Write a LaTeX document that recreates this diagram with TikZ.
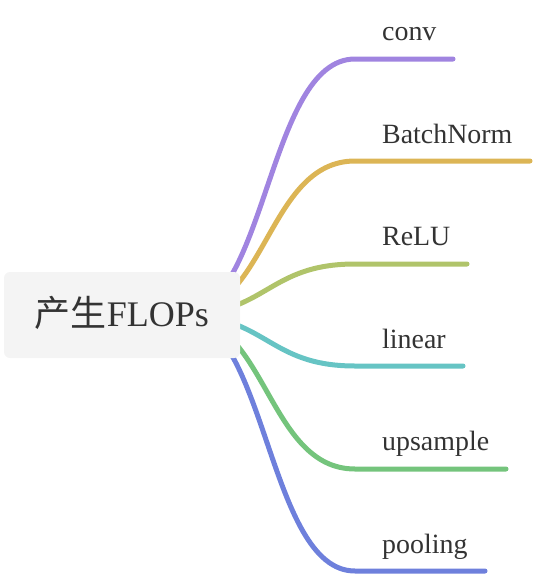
\documentclass[tikz,border=0pt]{standalone}
\usepackage{fontspec}
\setmainfont{Liberation Serif}
\newfontfamily\cjk{Noto Sans CJK SC}
\definecolor{cconv}{HTML}{A084E0}
\definecolor{cbn}{HTML}{DCB555}
\definecolor{crelu}{HTML}{B0C46A}
\definecolor{clin}{HTML}{66C4C4}
\definecolor{cup}{HTML}{74C47C}
\definecolor{cpool}{HTML}{6E80DC}
\definecolor{rootfill}{HTML}{F4F4F4}
\definecolor{txt}{HTML}{333333}
\tikzset{
  branch/.style={line width=5pt, line cap=round},
  leaf/.style={anchor=base west, inner sep=0pt, text=txt, font=\fontsize{27.9}{30}\selectfont},
  rootbox/.style={fill=rootfill, rounded corners=6pt, draw=none},
}
\begin{document}
\begin{tikzpicture}[x=1pt,y=-1pt]
\useasboundingbox (0,0) rectangle (534,576);
\coordinate (s) at (180,315);
\foreach \n/\y/\e/\c in {conv/59/453/cconv, bn/161/530/cbn, relu/264/467/crelu, lin/366/463/clin, up/469/506/cup, pool/571/485/cpool}{
  \coordinate (k\n) at (355,\y);
  \coordinate (e\n) at (\e,\y);
  \draw[branch, draw=\c] (s) .. controls (267,315) and (267,\y) .. (k\n) -- (e\n);
}
\fill[rootbox] (4,272) rectangle (240,358);
\node[anchor=base, inner sep=0pt, text=txt, font=\fontsize{36}{40}\selectfont] (root) at (122,326) {{\cjk 产生}FLOPs};
\node[leaf] (lconv) at (382,40) {conv};
\node[leaf] (lbn) at (382,143) {BatchNorm};
\node[leaf] (lrelu) at (382,245.5) {ReLU};
\node[leaf] (llin) at (382,348) {linear};
\node[leaf] (lup) at (382,450.5) {upsample};
\node[leaf] (lpool) at (382,553) {pooling};
\end{tikzpicture}
\end{document}
